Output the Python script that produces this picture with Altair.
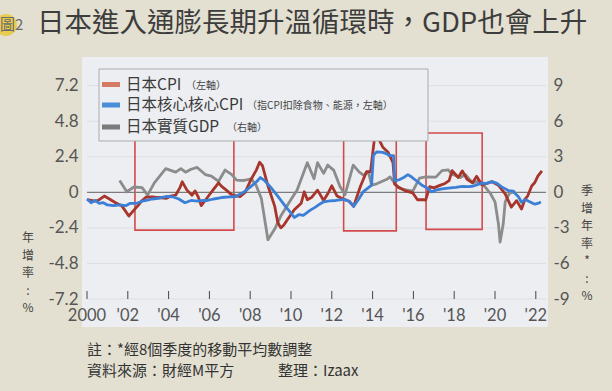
import altair as alt
import pandas as pd

# ---------------- data ----------------
cpi_year = [2000.0, 2000.2, 2000.4, 2000.6, 2000.85, 2001.1, 2001.4, 2001.7, 2002.05, 2002.3,
            2002.5, 2002.7, 2002.9, 2003.2, 2003.5, 2003.9, 2004.1, 2004.35, 2004.55, 2004.67,
            2004.9, 2005.15, 2005.3, 2005.45, 2005.6, 2005.9, 2006.2, 2006.45, 2006.6, 2006.8,
            2007.1, 2007.5, 2007.75, 2008.06, 2008.3, 2008.46, 2008.6, 2008.87, 2009.2, 2009.35,
            2009.5, 2009.65, 2009.83, 2010.16, 2010.5, 2010.65, 2010.8, 2011.0, 2011.3, 2011.6,
            2011.8, 2012.0, 2012.26, 2012.6, 2012.85, 2013.07, 2013.4, 2013.7, 2013.9, 2014.1,
            2014.3, 2014.5, 2014.76, 2015.0, 2015.08, 2015.3, 2015.65, 2015.97, 2016.2, 2016.5,
            2016.6, 2016.8, 2017.0, 2017.3, 2017.55, 2017.75, 2017.9, 2018.2, 2018.4, 2018.63,
            2018.9, 2019.1, 2019.36, 2019.6, 2019.85, 2020.17, 2020.5, 2020.8, 2021.06, 2021.3,
            2021.47, 2021.6, 2021.8, 2021.95, 2022.1, 2022.3]
cpi_value = [-0.5, -0.55, -0.6, -0.5, -0.25, -0.45, -0.7, -0.9, -1.6, -1.2,
             -0.9, -0.55, -0.32, -0.3, -0.35, -0.4, -0.25, -0.18, 0.3, 0.71,
             0.15, -0.2, 0.1, -0.3, -0.9, -0.35, 0.2, 0.64, 0.4, 0.18,
             -0.17, -0.29, 0.0, 0.92, 1.5, 2.03, 1.8, 0.44, -0.93, -2.04,
             -2.4, -2.2, -1.83, -1.18, -0.73, 0.04, -0.5, -0.35, 0.15, -0.55,
             -0.1, 0.44, -0.25, -0.48, -0.6, -0.95, 0.39, 1.39, 1.4, 3.74,
             3.6, 3.05, 2.7, 2.0, 0.55, 0.32, 0.08, -0.04, -0.5, -0.5,
             -0.52, 0.38, 0.3, 0.47, 0.6, 0.79, 1.46, 1.0, 1.45, 0.88,
             0.64, 1.08, 0.5, 0.6, 0.72, 0.47, -0.1, -1.0, -0.56, -1.13,
             -0.46, -0.25, 0.43, 0.66, 1.1, 1.45]

core_year = [2000.0, 2000.2, 2000.4, 2000.6, 2000.8, 2001.0, 2001.3, 2001.6, 2001.9, 2002.1,
             2002.4, 2002.7, 2002.9, 2003.2, 2003.5, 2003.9, 2004.2, 2004.5, 2004.8, 2005.1,
             2005.4, 2005.7, 2005.9, 2006.2, 2006.6, 2007.0, 2007.3, 2007.7, 2008.0, 2008.3,
             2008.5, 2008.7, 2009.0, 2009.35, 2009.7, 2010.0, 2010.16, 2010.4, 2010.6, 2010.95,
             2011.2, 2011.4, 2011.6, 2011.9, 2012.2, 2012.6, 2012.85, 2013.07, 2013.3, 2013.55,
             2013.95, 2014.04, 2014.2, 2014.5, 2014.7, 2014.8, 2015.03, 2015.08, 2015.3, 2015.5,
             2015.73, 2015.9, 2016.13, 2016.4, 2016.7, 2016.9, 2017.1, 2017.4, 2017.7, 2018.07,
             2018.4, 2018.7, 2018.9, 2019.1, 2019.36, 2019.6, 2019.85, 2020.1, 2020.33, 2020.65,
             2020.85, 2021.0, 2021.15, 2021.3, 2021.45, 2021.6, 2021.8, 2021.95, 2022.1, 2022.25]
core_value = [-0.45, -0.7, -0.55, -0.75, -0.7, -0.85, -0.9, -0.85, -0.9, -0.75,
              -0.75, -0.6, -0.55, -0.45, -0.4, -0.28, -0.3, -0.45, -0.7, -0.55,
              -0.6, -0.55, -0.55, -0.45, -0.35, -0.3, -0.28, 0.03, 0.35, 0.7,
              1.0, 0.8, 0.35, -0.26, -0.9, -1.4, -1.7, -1.5, -1.55, -1.2,
              -1.0, -0.8, -0.64, -0.57, -0.55, -0.48, -0.6, -0.95, -0.5, 0.05,
              0.49, 2.5, 2.73, 2.7, 2.6, 2.5, 2.47, 0.78, 0.85, 0.98,
              1.2, 1.05, 0.8, 0.5, 0.27, 0.03, 0.15, 0.24, 0.28, 0.33,
              0.4, 0.38, 0.41, 0.5, 0.62, 0.6, 0.72, 0.6, 0.37, 0.12,
              0.1, -0.1, -0.3, -0.67, -0.5, -0.56, -0.7, -0.8, -0.75, -0.65]

gdp_year = [2001.6, 2001.95, 2002.3, 2002.7, 2002.97, 2003.3, 2003.86, 2004.1, 2004.35, 2004.6,
            2004.83, 2005.1, 2005.4, 2005.8, 2006.1, 2006.45, 2006.77, 2007.1, 2007.33, 2007.7,
            2008.06, 2008.3, 2008.55, 2008.87, 2009.2, 2009.5, 2010.0, 2010.3, 2010.8, 2011.13,
            2011.3, 2011.6, 2011.8, 2012.1, 2012.4, 2012.65, 2013.05, 2013.35, 2013.55, 2013.8,
            2013.95, 2014.2, 2014.7, 2014.85, 2015.0, 2015.25, 2015.5, 2015.97, 2016.3, 2016.6,
            2017.1, 2017.4, 2017.7, 2017.9, 2018.3, 2018.55, 2018.9, 2019.2, 2019.5, 2019.77,
            2020.0, 2020.17, 2020.25, 2020.4, 2020.5, 2020.7, 2021.0]
gdp_value = [1.0, 0.05, 0.45, 0.4, -0.24, 0.8, 2.0, 1.85, 1.7, 2.0,
             1.7, 1.95, 2.1, 1.5, 1.37, 0.93, 1.88, 1.5, 1.03, 1.0,
             1.13, 0.56, -0.55, -4.0, -3.1, -2.0, -0.6, 0.2, 2.5, 1.15,
             2.5, 1.6, 2.3, 1.85, 0.5, -0.2, 2.3, 1.7, 1.45, 1.7,
             0.6, 0.72, 1.1, 1.3, 0.96, 0.4, 0.25, 0.1, 1.2, 1.3,
             1.28, 1.83, 1.9, 1.53, 1.25, 1.5, 0.8, 0.95, 0.48, -0.08,
             -0.8, -2.7, -4.2, -2.7, -0.8, -0.1, 0.1]

left_ticks = [-7.2, -4.8, -2.4, 0, 2.4, 4.8, 7.2]
right_ticks = [-9, -6, -3, 0, 3, 6, 9]
x_ticks = [2000, 2002, 2004, 2006, 2008, 2010, 2012, 2014, 2016, 2018, 2020, 2022]
x_tick_labels = ["2000", "'02", "'04", "'06", "'08", "'10", "'12", "'14", "'16", "'18", "'20", "'22"]

box_start = [2002.35, 2012.58, 2016.62]
box_end = [2007.2, 2015.16, 2019.37]
box_low = [-2.55, -2.6, -2.5]
box_high = [3.8, 3.9, 4.0]

legend_labels = ["日本CPI", "日本核心核心CPI", "日本實質GDP"]
legend_notes = ["（左軸）", "（指CPI扣除食物、能源，左軸）", "（右軸）"]

left_title_chars = ["年", "增", "率", ":", "%"]
right_title_chars = ["季", "增", "年", "率", "*", ":", "%"]

title_text = "日本進入通膨長期升溫循環時，GDP也會上升"
note_text = "註：*經8個季度的移動平均數調整"
source_text = "資料來源：財經M平方"
editor_text = "整理：Izaax"

# ---------------- styling ----------------
W, H = 459, 240
X_DOMAIN = [2000, 2022.5]
LEFT_DOMAIN = [-7.2, 9.0]
RIGHT_DOMAIN = [-9.0, 11.25]

RED = "#a8352b"
BLUE = "#3b80d6"
GRAY = "#8c8c8c"
LEG_COLORS = ["#d57a62", "#4a8dd8", "#7a7a7a"]
BOX = "#d24a4c"
CJK = "Noto Sans CJK TC"
NUM = "Lato"
TXT = "#3c3c3c"
NUMC = "#555555"

xs = alt.Scale(domain=X_DOMAIN, nice=False, zero=False)
ysl = alt.Scale(domain=LEFT_DOMAIN, nice=False, zero=False)
ysr = alt.Scale(domain=RIGHT_DOMAIN, nice=False, zero=False)

one = pd.DataFrame({"k": [0]})


def txt(text, x, y, size, color=TXT, align="left", baseline="middle", font=CJK, weight=400, **kw):
    return alt.Chart(one).mark_text(
        text=text, align=align, baseline=baseline, fontSize=size, font=font,
        fontWeight=weight, color=color, **kw
    ).encode(x=alt.value(x), y=alt.value(y))


layers = []

# panel background
layers.append(alt.Chart(one).mark_rect(color="#eceef1").encode(
    x=alt.value(-5), x2=alt.value(461), y=alt.value(-2), y2=alt.value(268)))

# grid lines
grid_df = pd.DataFrame({"v": [t for t in left_ticks if t != 0]})
layers.append(alt.Chart(grid_df).mark_rule(color="#dcdfe4", strokeWidth=1).encode(
    y=alt.Y("v:Q", scale=ysl, axis=None), x=alt.value(0), x2=alt.value(W)))

# red boxes
box_df = pd.DataFrame({"x0": box_start, "x1": box_end, "y0": box_low, "y1": box_high})
layers.append(alt.Chart(box_df).mark_rect(fillOpacity=0, stroke=BOX, strokeWidth=1.6).encode(
    x=alt.X("x0:Q", scale=xs, axis=None), x2="x1:Q",
    y=alt.Y("y0:Q", scale=ysl, axis=None), y2="y1:Q"))

# zero line
zero_df = pd.DataFrame({"v": [0]})
layers.append(alt.Chart(zero_df).mark_rule(color="#7c7c7c", strokeWidth=1.3).encode(
    y=alt.Y("v:Q", scale=ysl, axis=None), x=alt.value(0), x2=alt.value(W)))

# GDP (right axis)
gdp_df = pd.DataFrame({"year": gdp_year, "value": gdp_value})
layers.append(alt.Chart(gdp_df).mark_line(color=GRAY, strokeWidth=2.8, strokeJoin="round").encode(
    x=alt.X("year:Q", scale=xs, axis=None),
    y=alt.Y("value:Q", scale=ysr, axis=alt.Axis(
        orient="right", values=right_ticks, labelExpr="'' + datum.value", title=None,
        domain=False, ticks=False, grid=False, labelPadding=7, labelAlign="left",
        labelFont=NUM, labelFontSize=17, labelColor=NUMC, labelOverlap=False))))

# CPI (left axis)
cpi_df = pd.DataFrame({"year": cpi_year, "value": cpi_value})
layers.append(alt.Chart(cpi_df).mark_line(color=RED, strokeWidth=2.8, strokeJoin="round").encode(
    x=alt.X("year:Q", scale=xs, axis=None),
    y=alt.Y("value:Q", scale=ysl, axis=alt.Axis(
        orient="left", values=left_ticks, labelExpr="'' + datum.value", title=None,
        domain=False, ticks=False, grid=False, labelPadding=9,
        labelFont=NUM, labelFontSize=17, labelColor=NUMC, labelOverlap=False))))

# core CPI
core_df = pd.DataFrame({"year": core_year, "value": core_value})
layers.append(alt.Chart(core_df).mark_line(color=BLUE, strokeWidth=2.8, strokeJoin="round").encode(
    x=alt.X("year:Q", scale=xs, axis=None),
    y=alt.Y("value:Q", scale=ysl, axis=None)))

# x ticks and labels
xt_df = pd.DataFrame({"year": x_ticks, "label": x_tick_labels})
layers.append(alt.Chart(xt_df).mark_rule(color="#444444", strokeWidth=1).encode(
    x=alt.X("year:Q", scale=xs, axis=None), y=alt.value(H), y2=alt.value(H - 8)))
layers.append(alt.Chart(xt_df).mark_text(font=NUM, fontSize=16.5, color=NUMC, baseline="middle").encode(
    x=alt.X("year:Q", scale=xs, axis=None), y=alt.value(H + 17), text="label:N"))

# legend
layers.append(alt.Chart(one).mark_rect(fill="#eceef1", stroke="#a9abb0", strokeWidth=1).encode(
    x=alt.value(12), x2=alt.value(341), y=alt.value(10), y2=alt.value(82)))
row_y = [25.5, 46, 68]
note_x = [99, 160, 140]
for i in range(3):
    layers.append(alt.Chart(one).mark_rule(color=LEG_COLORS[i], strokeWidth=5).encode(
        x=alt.value(15), x2=alt.value(33), y=alt.value(row_y[i])))
    layers.append(txt(legend_labels[i], 39, row_y[i], 15.5, color="#3a3a3a"))
    layers.append(txt(legend_notes[i], note_x[i], row_y[i] + 1, 10, color="#444444"))

# axis titles (vertical, one character per mark)
for i, ch in enumerate(left_title_chars):
    layers.append(txt(ch, -59, 179 + i * 17.5, 12, color="#444444", align="center"))
for i, ch in enumerate(right_title_chars):
    layers.append(txt(ch, 500, 132 + i * 17.5, 12, color="#444444", align="center"))

# title
layers.append(alt.Chart(one).mark_circle(color="#e9c83c", opacity=0.85, size=480).encode(
    x=alt.value(-81), y=alt.value(-34)))
layers.append(txt("圖2", -87, -34, 15, color="#6a6a6a"))
layers.append(txt(title_text, -50, -35, 27.5, color="#3d3d3d", weight=400))

# footnotes
layers.append(txt(note_text, 0, 291, 15, color="#333333"))
layers.append(txt(source_text, 0, 312, 15, color="#333333"))
layers.append(txt(editor_text, 191, 312, 15, color="#333333"))

chart = alt.layer(*layers).resolve_scale(y="independent").properties(
    width=W, height=H,
    padding={"left": 87, "top": 59, "right": 66, "bottom": 92},
    autosize=alt.AutoSizeParams(type="none"),
    background="#e3e0d1",
).configure_view(stroke=None)

chart.save("out.html", embed_options={"renderer": "svg", "actions": False})
